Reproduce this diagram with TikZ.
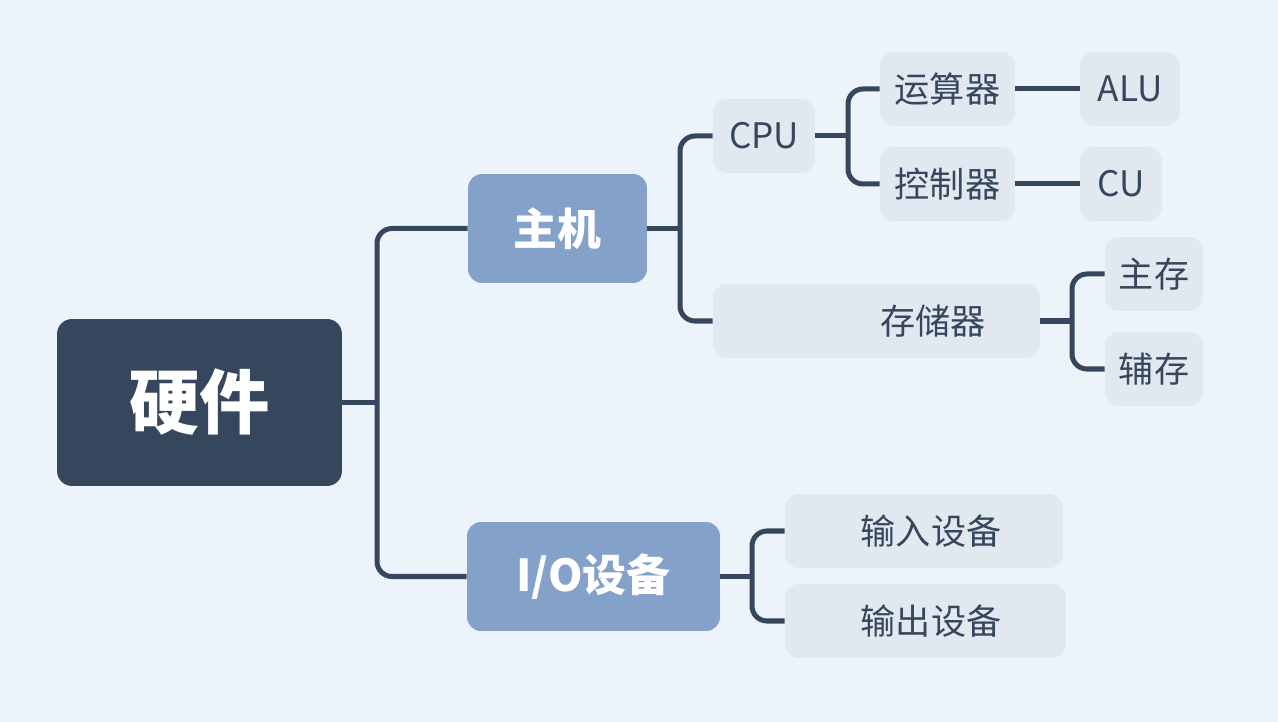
\documentclass[tikz,border=0pt]{standalone}
\usepackage{fontspec}
\newfontfamily\cjk{Noto Sans CJK SC}
\definecolor{bgc}{HTML}{ECF3FA}
\definecolor{darkc}{HTML}{36465D}
\definecolor{midc}{HTML}{84A2C9}
\definecolor{lightc}{HTML}{E2E8F0}
\tikzset{
  base/.style={rounded corners=0.28cm, inner sep=0pt, align=center, font=\cjk},
  rootbox/.style={base, fill=darkc, text=white, rounded corners=0.3cm,
    font=\cjk\bfseries\fontsize{40}{48}\selectfont},
  mainbox/.style={base, fill=midc, text=white, minimum height=2.18cm,
    font=\cjk\bfseries\fontsize{25}{30}\selectfont},
  leafbox/.style={base, fill=lightc, text=darkc, minimum height=1.48cm,
    font=\cjk\fontsize{20}{24}\selectfont},
  conn/.style={draw=darkc, line width=2.85pt, rounded corners=0.3cm}
}
\begin{document}
\begin{tikzpicture}[x=0.02cm, y=-0.02cm]
  \fill[bgc] (0,0) rectangle (1278,722);
  \useasboundingbox (0,0) rectangle (1278,722);

  % root and first level
  \node[rootbox, minimum width=5.7cm, minimum height=3.34cm] (root) at (199.5,402.5) {硬件};
  \node[mainbox, minimum width=3.58cm] (host) at (557.5,228.5) {主机};
  \node[mainbox, minimum width=5.06cm] (io) at (593.5,576.5) {I/O设备};

  % host branch
  \node[leafbox, minimum width=2.04cm] (cpu) at (764,136) {CPU};
  \node[leafbox, minimum width=6.54cm] (mem) at (876.5,321) {\hspace*{2.26cm}存储器};
  \node[leafbox, minimum width=2.7cm] (alu0) at (947.5,89) {运算器};
  \node[leafbox, minimum width=2.7cm] (cu0) at (947.5,184) {控制器};
  \node[leafbox, minimum width=2.0cm] (alu) at (1130,89) {ALU};
  \node[leafbox, minimum width=1.64cm] (cu) at (1121,184) {CU};
  \node[leafbox, minimum width=1.96cm] (mainmem) at (1154,274) {主存};
  \node[leafbox, minimum width=1.96cm] (auxmem) at (1154,369) {辅存};

  % io branch
  \node[leafbox, minimum width=5.56cm] (inp) at (924,531) {\hspace*{0.28cm}输入设备};
  \node[leafbox, minimum width=5.62cm] (outp) at (925.5,621) {\hspace*{0.22cm}输出设备};

  % junction points on the trunks
  \coordinate (j1) at (377,402.5);
  \coordinate (j2) at (680,228.5);
  \coordinate (j3) at (848,136);
  \coordinate (j4) at (1072,321);
  \coordinate (j5) at (752,576.5);

  % connectors
  \draw[conn] (root.east) -- (j1);
  \draw[conn] (host.west) -| (j1) |- (io.west);

  \draw[conn] (host.east) -- (j2);
  \draw[conn] (cpu.west) -| (j2) |- (mem.west);

  \draw[conn] (cpu.east) -- (j3);
  \draw[conn] (alu0.west) -| (j3) |- (cu0.west);
  \draw[conn] (alu0.east) -- (alu.west);
  \draw[conn] (cu0.east) -- (cu.west);

  \draw[conn] (mem.east) -- (j4);
  \draw[conn] (mainmem.west) -| (j4) |- (auxmem.west);

  \draw[conn] (io.east) -- (j5);
  \draw[conn] (inp.west) -| (j5) |- (outp.west);
\end{tikzpicture}
\end{document}
